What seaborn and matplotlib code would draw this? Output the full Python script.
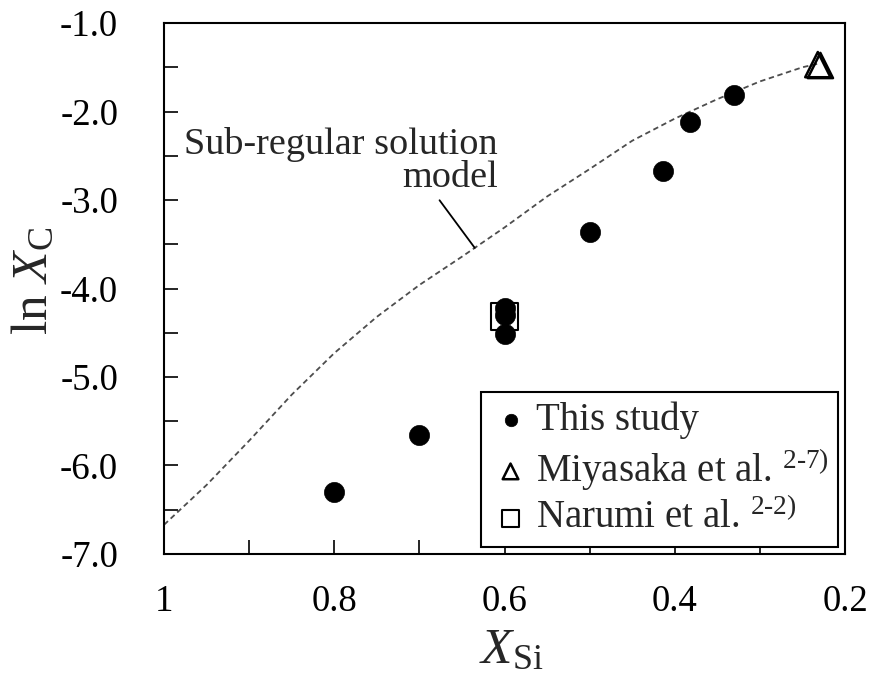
import numpy as np
import pandas as pd
import matplotlib
matplotlib.use("Agg")
import matplotlib.pyplot as plt
import seaborn as sns
from matplotlib.ticker import MultipleLocator, FuncFormatter

# Measured solubility (this study)
study_xsi = [0.80, 0.70, 0.60, 0.60, 0.60, 0.50, 0.414, 0.382, 0.331]
study_lnxc = [-6.30, -5.66, -4.22, -4.30, -4.51, -3.36, -2.67, -2.12, -1.81]

# Literature values
miyasaka_xsi = [0.232, 0.229]
miyasaka_lnxc = [-1.47, -1.48]
narumi_xsi = [0.60]
narumi_lnxc = [-4.32]

# Sub-regular solution model
model_xsi = [1.00, 0.95, 0.90, 0.85, 0.80, 0.75, 0.70, 0.65, 0.60, 0.55,
             0.50, 0.45, 0.40, 0.35, 0.30, 0.25, 0.232]
model_lnxc = [-6.67, -6.22, -5.72, -5.20, -4.73, -4.32, -3.96, -3.64, -3.31,
              -2.96, -2.65, -2.33, -2.08, -1.86, -1.66, -1.50, -1.46]

sns.set_theme(style="ticks")
plt.rcParams["font.family"] = ["Liberation Serif", "DejaVu Serif"]
plt.rcParams["mathtext.fontset"] = "custom"
plt.rcParams["mathtext.rm"] = "Liberation Serif"
plt.rcParams["mathtext.it"] = "Liberation Serif:italic"
plt.rcParams["mathtext.bf"] = "Liberation Serif:bold"

fig = plt.figure(figsize=(8.73, 6.87), dpi=100)
ax = fig.add_axes([0.1879, 0.1936, 0.7801, 0.7729])

model_df = pd.DataFrame({"xsi": model_xsi, "lnxc": model_lnxc})
sns.lineplot(data=model_df, x="xsi", y="lnxc", ax=ax, sort=False,
             color="#4d4d4d", lw=1.3, linestyle=(0, (3, 2)), zorder=1)

study_df = pd.DataFrame({"xsi": study_xsi, "lnxc": study_lnxc})
sns.scatterplot(data=study_df, x="xsi", y="lnxc", ax=ax, marker="o", s=210,
                color="black", edgecolor="black", linewidth=0.5, zorder=3,
                label="This study")

miy_df = pd.DataFrame({"xsi": miyasaka_xsi, "lnxc": miyasaka_lnxc})
sns.scatterplot(data=miy_df, x="xsi", y="lnxc", ax=ax, marker="^", s=330,
                facecolor="none", edgecolor="black", linewidth=1.8, zorder=4,
                label=r"Miyasaka et al. $^{\text{2-7)}}$")

nar_df = pd.DataFrame({"xsi": narumi_xsi, "lnxc": narumi_lnxc})
sns.scatterplot(data=nar_df, x="xsi", y="lnxc", ax=ax, marker="s", s=380,
                facecolor="none", edgecolor="black", linewidth=1.5, zorder=2,
                label=r"Narumi et al. $^{\text{2-2)}}$")

ax.set_xlim(1.0, 0.2)
ax.set_ylim(-7.0, -1.0)
ax.xaxis.set_major_locator(MultipleLocator(0.1))
ax.xaxis.set_major_formatter(FuncFormatter(
    lambda v, p: ("1" if abs(v - 1) < 1e-6 else f"{v:.1f}")
    if round(v * 10) % 2 == 0 else ""))
ax.yaxis.set_major_locator(MultipleLocator(0.5))
ax.yaxis.set_major_formatter(FuncFormatter(
    lambda v, p: f"{v:.1f}" if abs(v - round(v)) < 1e-6 else ""))

ax.tick_params(axis="both", direction="in", length=10, width=1.2,
               labelsize=26.5, colors="black")
ax.tick_params(axis="x", pad=22)
ax.tick_params(axis="y", pad=33)
for s in ax.spines.values():
    s.set_linewidth(1.5)
    s.set_color("black")

ax.set_xlabel(r"$X_\mathrm{Si}$", fontsize=37)
ax.xaxis.set_label_coords(0.51, -0.138)
ax.set_ylabel(r"ln $X_\mathrm{C}$", fontsize=37)
ax.yaxis.set_label_coords(-0.155, 0.515)

# Model label with leader line to the curve
tip_x = 0.635
tip_y = float(np.interp(tip_x, model_xsi[::-1], model_lnxc[::-1]))
ax.annotate("Sub-regular solution\nmodel", xy=(tip_x, tip_y),
            xytext=(0.976, -2.17), textcoords="data", fontsize=27.5,
            ha="left", va="top", multialignment="right", linespacing=0.95,
            arrowprops=dict(arrowstyle="-", color="black", lw=1.3,
                            shrinkA=2, shrinkB=0,
                            relpos=(0.80, 0.0)))

leg = ax.legend(loc="lower right", bbox_to_anchor=(0.99, 0.013),
                fontsize=28, frameon=True, fancybox=False, edgecolor="black",
                framealpha=1, markerscale=0.62, handletextpad=0.15,
                borderpad=0.25, labelspacing=0.2, handlelength=1.0,
                borderaxespad=0)
leg.get_frame().set_linewidth(1.5)

fig.savefig("out.png", dpi=100)
